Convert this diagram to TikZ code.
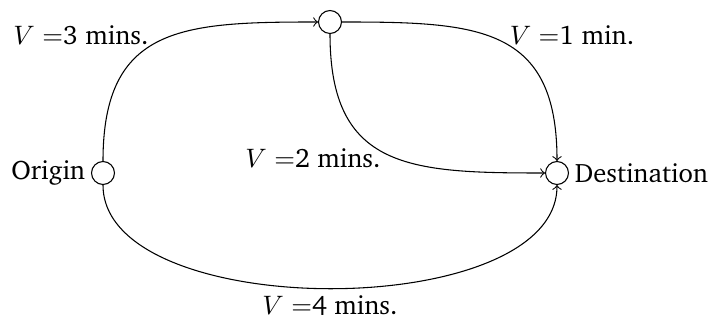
\documentclass[tikz,border=0pt]{standalone}
\usepackage[T1]{fontenc}
\usepackage{charter}
\begin{document}
\begin{tikzpicture}[x=0.375pt,y=0.375pt,
  vtx/.style={circle,draw,minimum size=8.6pt,inner sep=0pt},
  lbl/.style={inner sep=0pt},
  edge/.style={->,line width=0.4pt}]
\useasboundingbox (0,0) rectangle (712,-320);
\node[vtx,label={[lbl,xshift=-2pt]left:Origin}] (o) at (103,-173) {};
\node[vtx] (t) at (330,-22) {};
\node[vtx,label={[lbl,xshift=2pt]right:Destination}] (d) at (557,-173) {};
\draw[edge] (o) to[out=90,in=180,looseness=1.35] (t);
\draw[edge] (t) to[out=0,in=90,looseness=1.35] (d);
\draw[edge] (t) to[out=-90,in=180,looseness=1.35] (d);
\draw[edge] (o) to[out=-90,in=-90,looseness=0.78] (d);
\node[lbl] (l3) at (81,-35) {$V=$3 mins.};
\node[lbl] (l1) at (572,-35) {$V=$1 min.};
\node[lbl] (l2) at (313,-158) {$V=$2 mins.};
\node[lbl] (l4) at (330,-306) {$V=$4 mins.};
\end{tikzpicture}
\end{document}
